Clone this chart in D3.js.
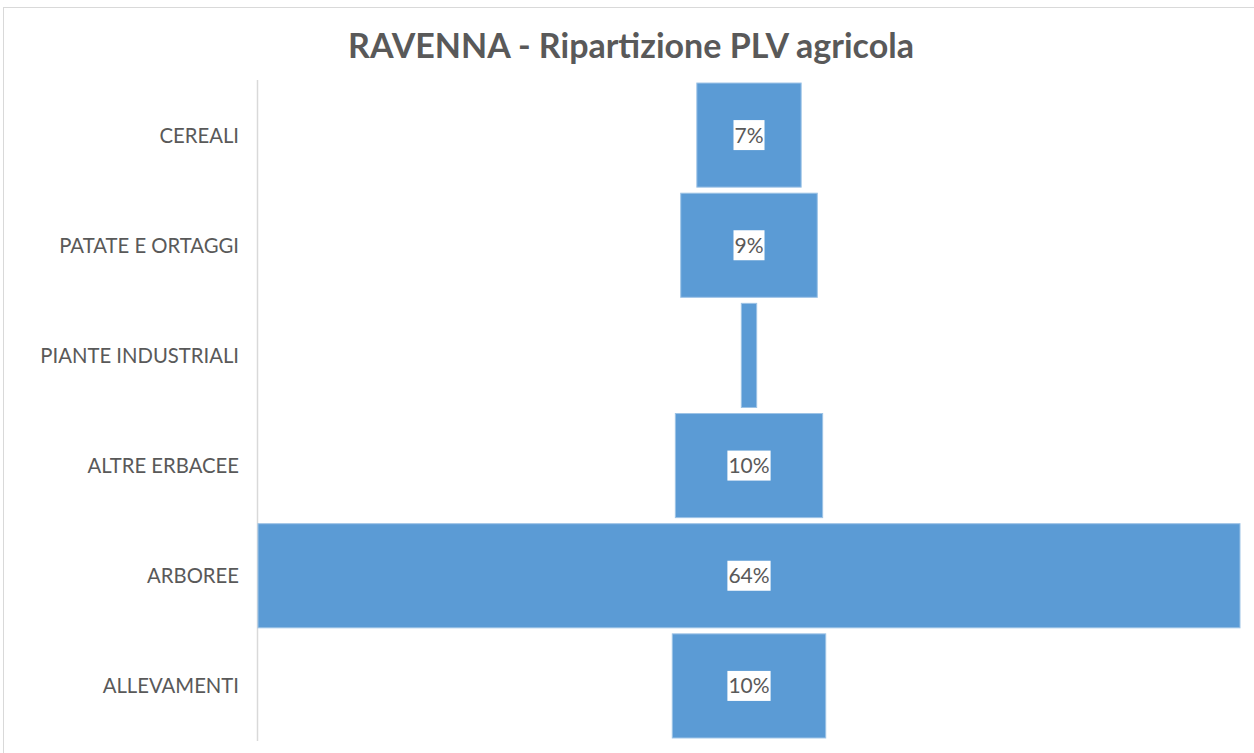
<!DOCTYPE html>
<html>
<head>
<meta charset="utf-8">
<script src="https://cdn.jsdelivr.net/npm/d3@7"></script>
<style>
  body { margin: 0; background: #fff; }
  svg { display: block; font-family: Lato, "Open Sans", sans-serif; }
</style>
</head>
<body>
<svg width="1254" height="753"></svg>
<script>
// data
const categories = ["CEREALI", "PATATE E ORTAGGI", "PIANTE INDUSTRIALI", "ALTRE ERBACEE", "ARBOREE", "ALLEVAMENTI"];
const shares = [6.8, 8.9, 1.0, 9.6, 64.0, 10.0];
const labels = ["7%", "9%", null, "10%", "64%", "10%"];
const title = "RAVENNA - Ripartizione PLV agricola";

const data = categories.map((c, i) => ({cat: c, v: shares[i], lab: labels[i]}));

const svg = d3.select("svg"),
    width = +svg.attr("width"),
    height = +svg.attr("height");

const plot = {left: 258, right: 1240, top: 80, bottom: 741};

// chart frame
svg.append("rect")
    .attr("x", 3.5).attr("y", 7.5)
    .attr("width", width + 10).attr("height", height + 10)
    .attr("fill", "none")
    .attr("stroke", "#d9d9d9")
    .attr("stroke-width", 1);

// title
svg.append("text")
    .attr("x", 631)
    .attr("y", 58)
    .attr("text-anchor", "middle")
    .style("font-size", "34px")
    .style("font-weight", "bold")
    .style("fill", "#595959")
    .text(title);

// scales
const maxV = d3.max(shares);
const x = d3.scaleLinear()
    .domain([-maxV / 2, maxV / 2])
    .range([plot.left, plot.right]);

const y = d3.scaleBand()
    .domain(categories)
    .range([plot.top, plot.bottom])
    .paddingInner(0.055)
    .paddingOuter(0.0275);

// axis line
svg.append("line")
    .attr("x1", plot.left - 0.5).attr("x2", plot.left - 0.5)
    .attr("y1", plot.top).attr("y2", plot.bottom)
    .attr("stroke", "#d9d9d9")
    .attr("stroke-width", 1.5);

// category labels
const yAxis = svg.append("g")
    .attr("transform", `translate(${plot.left - 19},1)`)
    .call(d3.axisLeft(y).tickSize(0).tickPadding(0));
yAxis.select(".domain").remove();
yAxis.selectAll("text")
    .style("font-size", "20.3px")
    .style("font-family", "Lato, sans-serif")
    .style("fill", "#595959");

// bars (centred funnel)
svg.append("g")
    .selectAll("rect")
    .data(data)
    .join("rect")
    .attr("x", d => x(-d.v / 2))
    .attr("y", d => y(d.cat))
    .attr("width", d => x(d.v / 2) - x(-d.v / 2))
    .attr("height", y.bandwidth())
    .attr("fill", "#5b9bd5")
    .attr("stroke", "#9dc3e6")
    .attr("stroke-width", 1);

// data labels with white boxes
const lab = svg.append("g")
    .selectAll("g")
    .data(data.filter(d => d.lab))
    .join("g")
    .attr("transform", d => `translate(${x(0)},${y(d.cat) + y.bandwidth() / 2})`);

lab.append("text")
    .attr("text-anchor", "middle")
    .attr("dy", "0.36em")
    .style("font-size", "21px")
    .style("fill", "#595959")
    .text(d => d.lab);

lab.each(function() {
    const g = d3.select(this);
    const bb = g.select("text").node().getBBox();
    g.insert("rect", "text")
        .attr("x", bb.x - 1)
        .attr("y", -15)
        .attr("width", bb.width + 2)
        .attr("height", 30)
        .attr("fill", "#fff");
});
</script>
</body>
</html>
